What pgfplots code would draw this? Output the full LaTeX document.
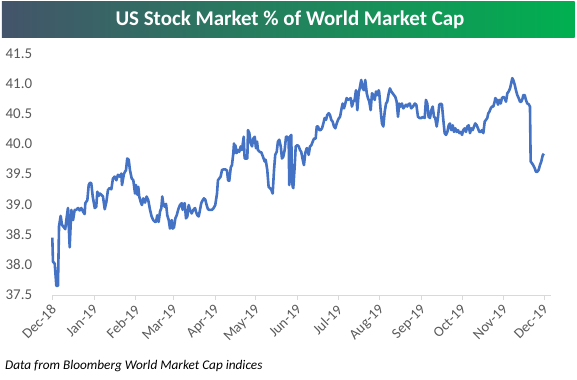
\documentclass[border=0pt]{standalone}
\usepackage{pgfplots}
\pgfplotsset{compat=1.18}
\usepackage{fontspec}
\setmainfont{Carlito}
\definecolor{linecol}{HTML}{4472C4}
\definecolor{axisgray}{HTML}{D9D9D9}
\definecolor{labgray}{HTML}{595959}
\definecolor{bannerL}{HTML}{44546A}
\definecolor{bannerR}{HTML}{00B050}
\begin{document}
\begin{tikzpicture}
\path[use as bounding box] (0bp,0bp) rectangle (577bp,380bp);
\shade[left color=bannerL, right color=bannerR] (1.8bp,342bp) rectangle (574.7bp,378.2bp);
\node[text=white, font=\bfseries\fontsize{21}{23}\selectfont] at (290bp,360bp) {US Stock Market \% of World Market Cap};
\node[anchor=west, inner sep=0pt, font=\itshape\fontsize{13.3}{15}\selectfont] at (5bp,14bp) {Data from Bloomberg World Market Cap indices};
\begin{axis}[
  at={(52.3bp,85bp)}, anchor=south west,
  scale only axis, width=498.7bp, height=241.6bp,
  xmin=0, xmax=370, ymin=37.5, ymax=41.5,
  axis x line*=bottom, axis y line*=left,
  x axis line style={color=axisgray, line width=0.75bp},
  y axis line style={draw=none},
  xtick={0,31,62,90,121,151,182,212,243,274,304,335,365},
  xticklabels={Dec-18,Jan-19,Feb-19,Mar-19,Apr-19,May-19,Jun-19,Jul-19,Aug-19,Sep-19,Oct-19,Nov-19,Dec-19},
  ytick={37.5,38,38.5,39,39.5,40,40.5,41,41.5},
  tick align=outside, major tick length=5bp,
  xtick style={color=axisgray, line width=0.75bp},
  ytick style={draw=none},
  /pgf/number format/assume math mode=true,
  yticklabel style={font=\fontsize{15}{17}\selectfont, text=labgray, anchor=east, inner sep=0pt, xshift=-15bp,
    /pgf/number format/.cd, fixed, fixed zerofill, precision=1},
  xticklabel style={font=\fontsize{14.5}{16}\selectfont, text=labgray, rotate=45, anchor=north east, inner sep=0pt, xshift=-4bp, yshift=-1bp},
  clip=false,
]
\addplot[color=linecol, line width=2.6bp, line join=round, mark=none] table {
d v
0 38.45
0.5 38.05
1.8 38.02
3.0 37.65
4.2 37.65
5.0 38.64
6.2 38.81
7.2 38.66
8.7 38.62
9.6 38.59
10.4 38.74
11.6 38.94
12.9 38.29
14.1 38.91
15.4 38.74
16.6 38.91
17.8 38.91
19.1 38.94
20.3 38.90
21.5 38.94
22.8 38.88
24.0 38.84
24.5 39.02
26.0 39.07
27.0 39.32
28.0 39.36
28.9 39.35
30.0 39.13
31.5 38.94
32.6 38.96
33.4 39.21
34.4 39.14
35.2 39.18
36.4 39.16
37.6 39.13
38.9 38.92
40.1 39.04
41.3 39.24
42.6 39.27
43.8 39.25
45.0 39.43
46.3 39.46
47.5 39.40
48.7 39.49
50.0 39.46
51.2 39.51
51.7 39.32
53.2 39.51
54.7 39.57
55.6 39.76
56.7 39.74
57.6 39.57
58.9 39.43
60.1 39.40
61.4 39.18
62.1 39.32
63.1 39.16
63.8 39.29
64.5 39.13
65.6 39.04
66.5 38.99
67.5 39.10
68.8 39.03
70.0 39.13
71.2 39.07
72.5 38.91
73.7 38.80
74.9 38.74
76.2 38.71
76.9 38.71
77.9 38.82
78.9 38.71
79.9 38.88
80.9 38.94
81.6 39.13
82.3 39.02
83.4 38.96
84.4 39.01
85.3 38.82
86.4 38.74
87.3 38.60
88.6 38.74
89.3 38.60
90.3 38.62
91.3 38.77
92.3 38.82
93.5 38.92
94.7 38.99
96.0 39.02
96.7 38.91
97.2 38.99
98.2 39.02
99.2 38.77
100.2 38.80
101.2 38.99
102.2 38.91
103.4 38.85
104.6 38.91
105.9 38.94
106.6 38.88
107.6 38.82
108.6 38.80
109.6 38.91
110.5 39.02
111.6 39.07
112.5 39.10
113.5 39.08
114.5 38.99
115.5 38.92
116.5 38.91
118.5 38.91
119.7 38.94
120.9 38.99
122.2 39.18
122.9 39.40
123.9 39.43
124.9 39.46
125.9 39.57
127.2 39.58
128.3 39.58
129.6 39.56
130.4 39.40
131.3 39.39
132.4 39.61
133.3 39.65
134.3 39.85
134.8 40.01
135.3 39.85
135.8 39.98
136.8 39.85
137.8 39.90
138.7 39.87
139.8 39.96
140.7 39.90
142.0 40.12
142.7 39.76
144.7 39.76
145.2 40.23
146.2 40.18
147.2 40.01
148.2 39.96
149.1 40.09
150.2 40.12
151.1 39.93
151.9 40.04
152.6 39.90
153.9 39.87
155.1 39.86
156.3 39.79
157.6 39.71
158.3 39.74
159.5 39.57
160.5 39.29
161.5 39.27
162.5 39.24
163.5 39.18
164.5 39.57
165.4 39.82
166.5 39.87
167.4 40.04
168.4 40.07
169.5 39.96
170.4 39.76
171.4 39.79
172.4 39.90
173.4 40.12
174.3 40.12
175.4 40.04
175.8 39.32
176.3 40.12
177.3 40.15
177.8 39.40
178.4 39.29
178.8 39.27
179.8 39.62
180.6 39.96
181.8 39.98
182.8 39.96
183.8 39.90
184.7 39.87
185.8 39.74
186.7 39.65
187.7 39.85
188.7 39.93
189.2 39.93
190.2 39.82
191.2 39.96
192.2 39.98
193.2 40.04
194.2 40.09
195.4 40.09
196.2 40.29
197.1 40.29
198.1 40.23
199.1 40.23
200.1 40.26
201.1 40.34
202.1 40.43
203.1 40.40
204.0 40.48
205.1 40.51
206.0 40.48
207.0 40.40
208.0 40.37
209.0 40.29
210.0 40.26
211.0 40.34
212.0 40.40
212.7 40.43
213.5 40.45
214.4 40.56
215.4 40.67
216.4 40.59
217.4 40.67
218.4 40.76
219.4 40.73
220.3 40.74
221.4 40.76
222.3 40.62
223.3 40.70
224.3 40.73
225.3 40.89
226.3 40.56
227.3 40.84
228.3 40.95
229.2 41.06
230.3 40.92
231.2 40.89
232.2 41.06
233.3 40.84
234.2 40.76
235.2 40.70
236.2 40.56
237.2 40.84
238.2 40.81
239.2 40.73
240.2 40.87
241.1 40.81
242.2 40.89
242.6 40.84
243.6 40.56
244.6 40.34
245.6 40.29
246.6 40.53
247.6 40.67
248.5 40.70
249.6 40.84
250.5 40.92
251.5 40.87
252.5 40.84
253.5 40.81
254.5 40.78
255.5 40.70
256.5 40.45
257.4 40.67
258.5 40.62
259.4 40.67
260.4 40.59
261.4 40.62
262.4 40.65
263.4 40.62
263.9 40.65
265.2 40.67
266.3 40.59
267.6 40.62
268.9 40.67
270.1 40.65
271.3 40.45
272.6 40.43
273.8 40.43
275.0 40.45
276.3 40.43
277.2 40.73
278.2 40.67
279.2 40.45
280.2 40.43
281.2 40.56
282.2 40.62
283.2 40.45
284.1 40.43
285.2 40.29
286.1 40.43
287.1 40.65
288.2 40.67
289.1 40.65
290.1 40.40
291.1 40.18
292.1 40.15
293.1 40.20
294.1 40.31
295.0 40.34
296.0 40.23
297.1 40.31
298.0 40.20
299.0 40.26
300.0 40.20
301.0 40.23
302.0 40.18
303.0 40.20
304.0 40.15
304.9 40.23
306.0 40.26
306.9 40.20
307.9 40.29
308.9 40.31
309.9 40.18
310.9 40.26
311.9 40.23
312.9 40.29
313.8 40.34
314.9 40.31
315.8 40.26
316.8 40.20
317.8 40.20
318.8 40.23
319.8 40.18
320.8 40.37
321.8 40.40
322.7 40.43
323.5 40.51
324.2 40.53
325.3 40.59
326.2 40.62
327.2 40.62
328.2 40.70
328.7 40.76
329.7 40.73
330.7 40.65
331.6 40.73
332.7 40.67
333.6 40.76
334.6 40.78
335.6 40.76
336.6 40.70
337.6 40.84
338.6 40.87
339.6 40.92
340.5 41.01
341.3 41.09
342.0 41.06
343.1 40.98
344.0 40.89
345.0 40.81
346.0 40.76
347.0 40.70
348.0 40.70
349.0 40.76
349.4 40.81
350.5 40.81
351.4 40.73
352.4 40.67
353.4 40.66
354.4 40.62
354.9 39.71
355.9 39.68
356.8 39.65
357.9 39.60
358.8 39.54
359.8 39.54
360.8 39.57
361.8 39.65
362.8 39.71
363.8 39.81
364.7 39.84
};
\end{axis}
\end{tikzpicture}
\end{document}
